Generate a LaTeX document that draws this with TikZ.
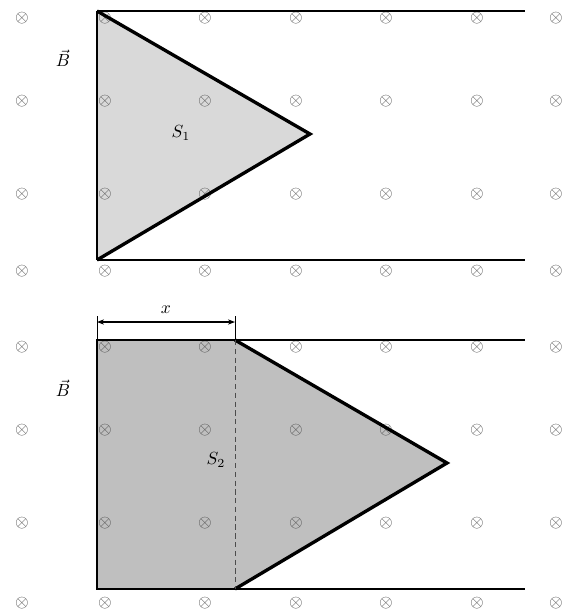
\documentclass[tikz,border=0pt]{standalone}
\usepackage{amsmath}
\usepackage{amssymb}
\usetikzlibrary{arrows.meta}

\begin{document}
\begin{tikzpicture}
			[x=0.02cm, y=-0.02cm,
			 field/.style={text=black!70, inner sep=0pt},
			 rail/.style={line width=0.7pt},
			 side/.style={line width=1.1pt},
			 edge/.style={line width=1.9pt, line join=miter}]
			
			\useasboundingbox (0,0) rectangle (568,610);
			
			\coordinate (A1) at (97,11);
			\coordinate (T1) at (310,134);
			\coordinate (C1) at (97,260);
			\coordinate (R1) at (525,11);
			\coordinate (R2) at (525,260);
			
			\coordinate (A2) at (97,340);
			\coordinate (M2) at (235,340);
			\coordinate (T2) at (447,463);
			\coordinate (N2) at (235,589);
			\coordinate (C2) at (97,589);
			\coordinate (R3) at (525,340);
			\coordinate (R4) at (525,589);
			
			\fill[black!15] (A1) -- (T1) -- (C1) -- cycle;
			\fill[black!25] (A2) -- (M2) -- (T2) -- (N2) -- (C2) -- cycle;
			
			\foreach \y in {18,101,194,271,347,430,523,603}
				\foreach \x in {22,105,205,296,386,477,556}
					\node[field] (f-\x-\y) at (\x,\y) {$\otimes$};
			
			\draw[rail] (A1) -- (R1);
			\draw[rail] (C1) -- (R2);
			\draw[side] (A1) -- (C1);
			\draw[edge] (A1) -- (T1) -- (C1);
			
			\draw[rail] (M2) -- (R3);
			\draw[rail] (N2) -- (R4);
			\draw[side] (M2) -- (A2) -- (C2) -- (N2);
			\draw[edge] (M2) -- (T2) -- (N2);
			\draw[black!70, line width=0.5pt, densely dashed] (M2) -- (N2);
			
			\coordinate (X1) at (97,316);
			\coordinate (X2) at (235,316);
			\draw[line width=0.4pt] (X1) -- (A2);
			\draw[line width=0.4pt] (X2) -- (M2);
			\draw[{Stealth[length=4pt]}-{Stealth[length=4pt]}, line width=0.6pt] ([yshift=-6*0.02cm]X1) -- node[above=1pt] (xlab) {$x$} ([yshift=-6*0.02cm]X2);
			
			\node (B1) at (63,58) {$\vec{B}$};
			\node (B2) at (63,388) {$\vec{B}$};
			\node (S1) at (181,133) {$S_1$};
			\node (S2) at (216,460) {$S_2$};
		\end{tikzpicture}
\end{document}
